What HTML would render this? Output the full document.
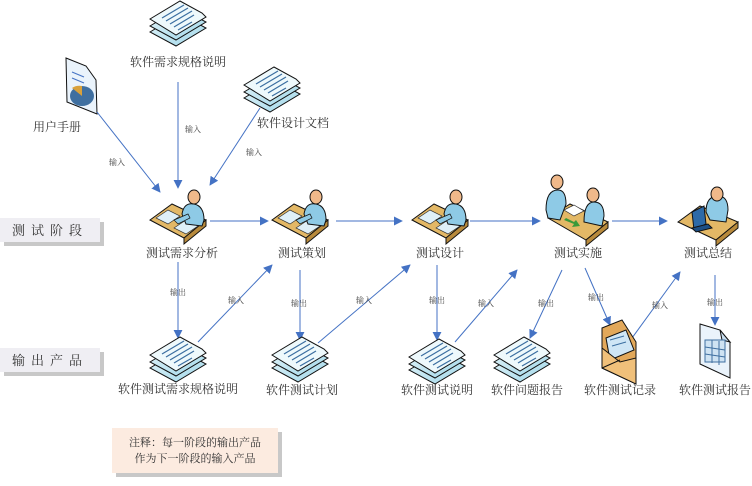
<!DOCTYPE html>
<html><head><meta charset="utf-8"><style>
html,body{margin:0;padding:0;background:#fff}
text{font-family:"Liberation Serif","Noto Serif CJK SC",serif;fill:#333}
.l{font-size:12px}
.s{font-size:8px;fill:#444}
</style></head><body>
<svg width="752" height="481" viewBox="0 0 752 481" xmlns="http://www.w3.org/2000/svg">
<defs>
<marker id="ar" viewBox="0 0 10 10" refX="9" refY="5" markerWidth="9" markerHeight="9" orient="auto" markerUnits="userSpaceOnUse"><path d="M0,0 L10,5 L0,10 z" fill="#4472c4"/></marker>
<linearGradient id="pb" x1="0" y1="0" x2="1" y2="1"><stop offset="0" stop-color="#e6f6fb"/><stop offset="1" stop-color="#9fd6e8"/></linearGradient>
<g id="stack">
<polygon points="-28,10 2,-8 28,6 -2,24" fill="url(#pb)" stroke="#111" stroke-width="1"/>
<polygon points="-28,4 2,-14 28,0 -2,18" fill="url(#pb)" stroke="#111" stroke-width="1"/>
<polygon points="-28,-3 2,-21 24,-9 28,-5 -2,13" fill="#eef9fc" stroke="#111" stroke-width="1"/>
<g stroke="#3b6ea0" stroke-width="1.2"><line x1="-16" y1="-4" x2="6" y2="-17"/><line x1="-12" y1="-1" x2="10" y2="-14"/><line x1="-8" y1="2" x2="14" y2="-11"/><line x1="-4" y1="5" x2="16" y2="-7"/><line x1="0" y1="8" x2="14" y2="0"/></g>
</g>
<g id="desk">
<polygon points="-28,2 -6,-14 28,2 6,20" fill="#e3b866" stroke="#111"/>
<polygon points="6,20 28,2 28,8 6,26" fill="#b88a3c" stroke="#111"/>
<polygon points="-22,0 -10,-8 2,-2 -10,6" fill="#dff0f8" stroke="#333" stroke-width=".7"/>
<polygon points="-4,10 8,2 20,8 8,16" fill="#dff0f8" stroke="#333" stroke-width=".7"/>
<path d="M4,-4 Q6,-16 16,-14 Q26,-12 26,2 L24,8 L8,6 Z" fill="#8ecae6" stroke="#111"/>
<path d="M-4,2 L10,-4 L12,0 L0,6 Z" fill="#8ecae6" stroke="#111" stroke-width=".7"/>
<ellipse cx="16" cy="-21" rx="6" ry="7" fill="#f0b98a" stroke="#111"/>
</g>
</defs>

<rect x="4" y="222" width="100" height="24" fill="#c8c8c8"/>
<rect x="0" y="218" width="100" height="24" fill="#efeef3"/>
<text x="50" y="235" text-anchor="middle" class="l" style="letter-spacing:6px;font-size:13px">测试阶段</text>
<rect x="4" y="352" width="100" height="24" fill="#c8c8c8"/>
<rect x="0" y="348" width="100" height="24" fill="#efeef3"/>
<text x="50" y="365" text-anchor="middle" class="l" style="letter-spacing:6px;font-size:13px">输出产品</text>

<use href="#stack" x="178" y="22"/>
<text x="178" y="66" text-anchor="middle" class="l">软件需求规格说明</text>
<g>
<polygon points="66,58 86,66 96,80 97,114 67,102" fill="#eaf3fb" stroke="#111"/>
<ellipse cx="82" cy="96" rx="12" ry="10" fill="#3f6fa0"/>
<path d="M82,96 L72,88 A12,10 0 0 1 82,86 Z" fill="#d9a13b"/>
<line x1="72" y1="72" x2="84" y2="77" stroke="#4472c4"/><line x1="72" y1="78" x2="84" y2="83" stroke="#4472c4"/>
</g>
<text x="57" y="131" text-anchor="middle" class="l">用户手册</text>
<use href="#stack" x="272" y="88"/>
<text x="293" y="127" text-anchor="middle" class="l">软件设计文档</text>

<g stroke="#4472c4" stroke-width="1" fill="none" marker-end="url(#ar)">
<line x1="178" y1="82" x2="178" y2="188"/>
<line x1="97" y1="112" x2="160" y2="192"/>
<line x1="260" y1="108" x2="210" y2="185"/>
<line x1="210" y1="221" x2="268" y2="221"/>
<line x1="336" y1="221" x2="402" y2="221"/>
<line x1="470" y1="221" x2="540" y2="221"/>
<line x1="612" y1="221" x2="667" y2="221"/>
<line x1="178" y1="262" x2="178" y2="338"/>
<line x1="198" y1="342" x2="272" y2="265"/>
<line x1="300" y1="270" x2="300" y2="340"/>
<line x1="318" y1="343" x2="410" y2="265"/>
<line x1="437" y1="265" x2="437" y2="340"/>
<line x1="455" y1="342" x2="517" y2="270"/>
<line x1="562" y1="270" x2="530" y2="338"/>
<line x1="585" y1="268" x2="610" y2="325"/>
<line x1="632" y1="338" x2="680" y2="272"/>
<line x1="715" y1="275" x2="715" y2="325"/>
</g>
<g text-anchor="middle">
<text x="193" y="132" class="s">输入</text>
<text x="117" y="165" class="s">输入</text>
<text x="254" y="155" class="s">输入</text>
<text x="178" y="295" class="s">输出</text>
<text x="236" y="303" class="s">输入</text>
<text x="299" y="306" class="s">输出</text>
<text x="364" y="303" class="s">输入</text>
<text x="437" y="303" class="s">输出</text>
<text x="486" y="306" class="s">输入</text>
<text x="546" y="306" class="s">输出</text>
<text x="596" y="300" class="s">输出</text>
<text x="660" y="308" class="s">输入</text>
<text x="715" y="305" class="s">输出</text>
</g>

<use href="#desk" x="178" y="218"/>
<text x="182" y="257" text-anchor="middle" class="l">测试需求分析</text>
<use href="#desk" x="300" y="218"/>
<text x="302" y="257" text-anchor="middle" class="l">测试策划</text>
<use href="#desk" x="440" y="218"/>
<text x="440" y="257" text-anchor="middle" class="l">测试设计</text>
<g>
<polygon points="548,218 570,204 608,222 586,240" fill="#e3b866" stroke="#111"/>
<polygon points="586,240 608,222 608,228 586,246" fill="#b88a3c" stroke="#111"/>
<path d="M546,210 Q546,190 558,190 Q566,190 566,204 L560,220 L548,218 Z" fill="#8ecae6" stroke="#111"/>
<ellipse cx="557" cy="182" rx="6" ry="7" fill="#f0b98a" stroke="#111"/>
<path d="M584,222 Q584,202 594,202 Q604,202 604,216 L602,226 Z" fill="#8ecae6" stroke="#111"/>
<ellipse cx="593" cy="195" rx="6" ry="7" fill="#f0b98a" stroke="#111"/>
<polygon points="564,210 574,205 584,211 574,216" fill="#fff" stroke="#333" stroke-width=".7"/>
<path d="M564,220 L574,224 L572,227 L580,226 L576,220 L574,222 L566,218Z" fill="#3a9a3a"/>
</g>
<text x="578" y="257" text-anchor="middle" class="l">测试实施</text>
<g>
<polygon points="678,222 700,206 738,222 716,240" fill="#e3b866" stroke="#111"/>
<polygon points="716,240 738,222 738,228 716,246" fill="#b88a3c" stroke="#111"/>
<path d="M706,212 Q706,196 718,196 Q728,196 728,210 L726,222 L710,220 Z" fill="#8ecae6" stroke="#111"/>
<ellipse cx="717" cy="194" rx="6" ry="7" fill="#f0b98a" stroke="#111"/>
<polygon points="692,212 704,206 706,224 694,230" fill="#2d6aa8" stroke="#111"/>
<polygon points="692,228 708,224 712,228 696,232" fill="#1d4f85" stroke="#111"/>
</g>
<text x="708" y="257" text-anchor="middle" class="l">测试总结</text>

<use href="#stack" x="178" y="358"/>
<text x="178" y="393" text-anchor="middle" class="l">软件测试需求规格说明</text>
<use href="#stack" x="300" y="358"/>
<text x="302" y="394" text-anchor="middle" class="l">软件测试计划</text>
<use href="#stack" x="437" y="360"/>
<text x="437" y="394" text-anchor="middle" class="l">软件测试说明</text>
<use href="#stack" x="522" y="358"/>
<text x="527" y="394" text-anchor="middle" class="l">软件问题报告</text>
<g>
<polygon points="602,328 622,320 636,342 636,384 602,368" fill="#e2a85a" stroke="#111"/>
<polygon points="606,338 626,330 634,350 610,360" fill="#cfe6f5" stroke="#111"/>
<line x1="610" y1="340" x2="624" y2="336" stroke="#3b6ea0"/><line x1="612" y1="346" x2="626" y2="342" stroke="#3b6ea0"/>
<polygon points="602,348 620,362 636,358 636,384 602,368" fill="#f0c07a" stroke="#111"/>
<line x1="602" y1="368" x2="620" y2="360" stroke="#111"/>
</g>
<text x="620" y="394" text-anchor="middle" class="l">软件测试记录</text>
<g>
<polygon points="700,324 720,330 730,342 730,378 700,364" fill="#eaf3fb" stroke="#111"/>
<polygon points="720,330 722,340 730,342" fill="#c9dff0" stroke="#111"/>
<g stroke="#3f6fa0" fill="none"><rect x="705" y="340" width="20" height="22" fill="#cfe3f3"/><line x1="705" y1="347" x2="725" y2="350"/><line x1="705" y1="354" x2="725" y2="357"/><line x1="712" y1="340" x2="712" y2="363"/><line x1="719" y1="341" x2="719" y2="365"/></g>
</g>
<text x="715" y="394" text-anchor="middle" class="l">软件测试报告</text>

<rect x="116" y="432" width="166" height="45" fill="#c8c8c8"/>
<rect x="112" y="428" width="166" height="45" fill="#fcebe0"/>
<text x="195" y="446" text-anchor="middle" class="l" style="font-size:11px">注释：每一阶段的输出产品</text>
<text x="195" y="462" text-anchor="middle" class="l" style="font-size:11px">作为下一阶段的输入产品</text>
</svg>
</body></html>
